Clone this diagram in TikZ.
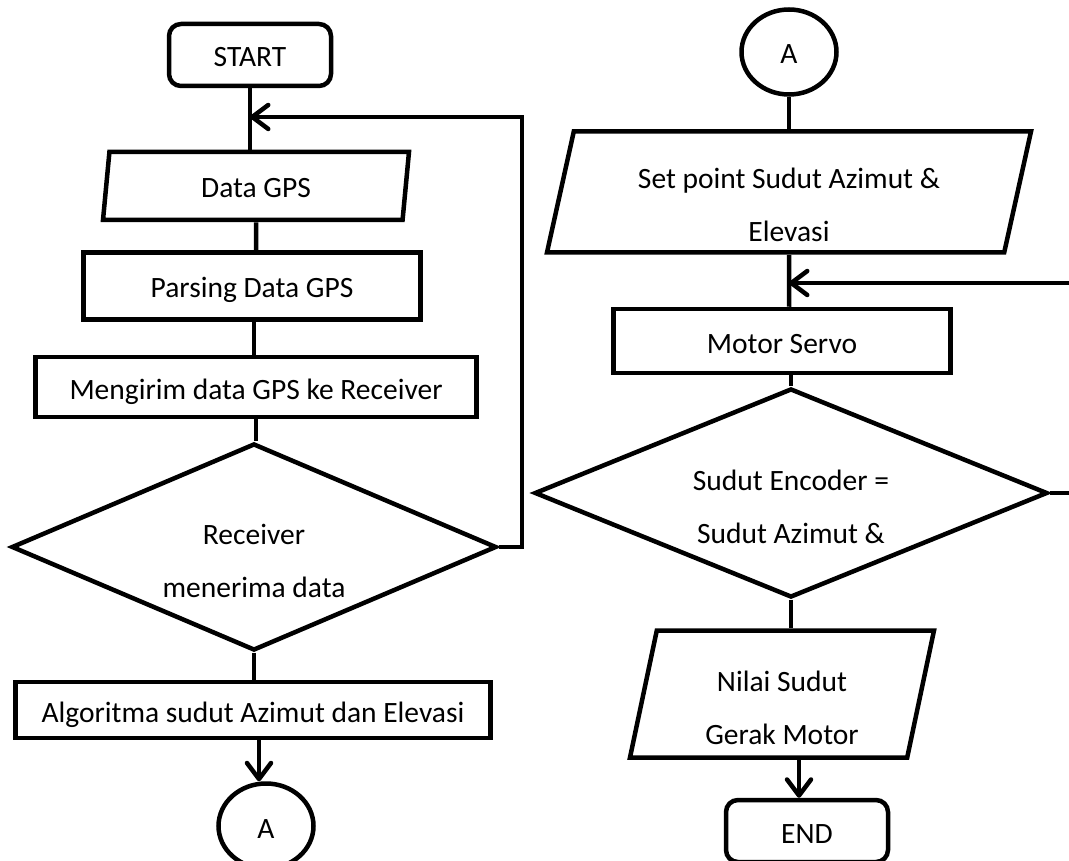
\documentclass[tikz,border=0pt]{standalone}
\usepackage{fontspec}
\setmainfont{Carlito}
\usetikzlibrary{arrows.meta,shapes.geometric}
\tikzset{
	box/.style={draw, line width=4.5pt, inner sep=0pt, align=center, font=\fontsize{29.5}{53}\selectfont, text height=24pt, text depth=0pt},
	twoline/.style={text height=100pt, text depth=0pt},
	terminal/.style={box, rounded corners=12pt, minimum width=162, minimum height=62},
	process/.style={box, rectangle},
	inout/.style={box, trapezium, trapezium left angle=75, trapezium right angle=105, trapezium stretches body},
	decision/.style={box, diamond},
	connector/.style={box, ellipse, minimum width=95, minimum height=85},
	link/.style={line width=4.5pt},
	flow/.style={line width=4.5pt, -{Straight Barb[round,length=16pt,width=24pt]}},
}

\begin{document}
\begin{tikzpicture}[x=1pt,y=-1pt]
			%%%%% START %%%%%
			\useasboundingbox (0,0) rectangle (1069,861);
			\clip (0,0) rectangle (1069,861);
			
			% left column
			\node[terminal] (start) at (250,55) {START};
			\node[inout, minimum width=306, minimum height=68] (gps) at (256,186) {Data GPS};
			\node[process, minimum width=337, minimum height=67] (parse) at (252,286) {Parsing Data GPS};
			\node[process, minimum width=441, minimum height=60] (send) at (256,387) {Mengirim data GPS ke Receiver};
			\node[decision, twoline, aspect=2.34, minimum width=485, minimum height=207] (recv) at (254,547) {Receiver\\menerima data};
			\node[process, minimum width=475, minimum height=56] (algo) at (253,710) {Algoritma sudut Azimut dan Elevasi};
			\node[connector] (outA) at (266,826) {A};
			
			% right column
			\node[connector] (inA) at (789,52) {A};
			\node[inout, twoline, minimum width=484, minimum height=121] (setp) at (789,192) {Set point Sudut Azimut \&\\Elevasi};
			\node[process, minimum width=337, minimum height=64] (servo) at (782,341) {Motor Servo};
			\node[decision, twoline, aspect=2.45, minimum width=513, minimum height=209] (cmp) at (791,493) {Sudut Encoder =\\Sudut Azimut \&};
			\node[inout, twoline, minimum width=304, minimum height=127] (val) at (782,694) {Nilai Sudut\\Gerak Motor};
			\node[terminal] (end) at (807,831) {END};
			
			\coordinate (backL) at (522,117);
			\coordinate (backR) at (1090,283);
			
			\draw[link] (start) -- (start |- gps.north);
			\draw[link] (gps) -- (gps |- parse.north);
			\draw[link] (parse) -- (parse.south -| 254,0) -- (send.north -| 254,0);
			\draw[link] (send) -- (send |- recv.north);
			\draw[link] (recv.south) -- (algo.north -| recv.south);
			\draw[flow] (algo.south -| 259,0) -- (outA.north -| 259,0);
			\draw[flow] (recv.east) -| (backL) -- (start |- backL);
			
			\draw[link] (inA) -- (inA |- setp.north);
			\draw[link] (setp) -- (setp |- servo.north);
			\draw[link] (servo.south -| cmp.north) -- (cmp.north);
			\draw[link] (cmp.south) -- (val.north -| cmp.south);
			\draw[flow] (val.south -| 799,0) -- (end.north -| 799,0);
			\draw[flow] (cmp.east) -| (backR) -- (setp |- backR);
			%%%%% END %%%%%
\end{tikzpicture}
\end{document}
